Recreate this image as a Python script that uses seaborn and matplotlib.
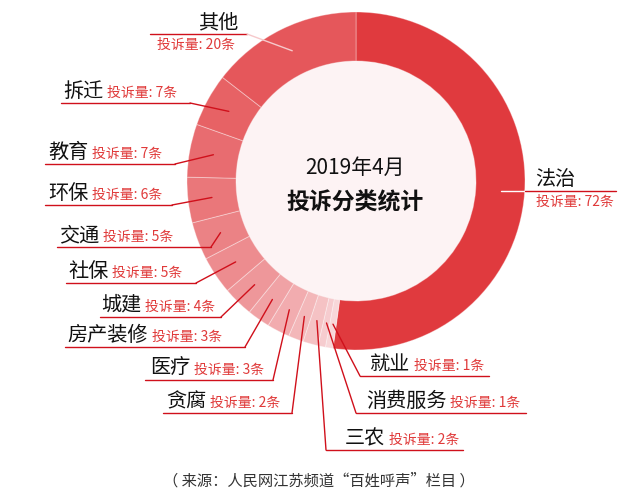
import matplotlib
matplotlib.use('Agg')
import matplotlib.pyplot as plt
import seaborn as sns
import numpy as np
from matplotlib.patches import Circle

# ---------------- data ----------------
categories = ['法治', '就业', '消费服务', '三农', '贪腐', '医疗', '房产装修',
              '城建', '社保', '交通', '环保', '教育', '拆迁', '其他']
counts = [72, 1, 1, 2, 2, 3, 3, 4, 5, 5, 6, 7, 7, 20]
title_lines = ['2019年4月', '投诉分类统计']
count_fmt = '投诉量: {}条'
source_note = '（ 来源：人民网江苏频道“百姓呼声”栏目 ）'

# ---------------- style ----------------
sns.set_theme(style='white')
plt.rcParams['font.family'] = ['Noto Sans CJK SC', 'DejaVu Sans']

W, H = 640, 500
fig = plt.figure(figsize=(6.4, 5), dpi=100)
ax = fig.add_axes([0, 0, 1, 1])


def Y(y):
    return H - y


CX, CY = 356, 181
R_OUT, R_IN = 169, 120
R_ANCH = 145
LINE_C = '#D0101B'
COUNT_C = '#E03A3A'
NAME_C = '#111111'

palette = ['#E03A3E'] + sns.blend_palette(['#F8D7D9', '#E5575B'], len(counts) - 1)
wedges, _ = ax.pie(counts, colors=palette, startangle=90, counterclock=False,
                   radius=R_OUT, center=(CX, Y(CY)),
                   wedgeprops=dict(width=R_OUT - R_IN, edgecolor=(1, 1, 1, 0.35),
                                   linewidth=0.7))
ax.add_patch(Circle((CX, Y(CY)), R_IN, color='#FDF3F4', zorder=0.5))
ax.set_xlim(0, W)
ax.set_ylim(0, H)
ax.set_aspect('equal')
ax.axis('off')

# anchors from wedge angles
anchors = {}
for cat, w in zip(categories, wedges):
    th = np.deg2rad((w.theta1 + w.theta2) / 2)
    anchors[cat] = (CX + R_ANCH * np.cos(th), Y(CY) + R_ANCH * np.sin(th), th)

# layout (image px): line_y, x0, x1, elbow side, name_x
layout = {
    '就业': (376, 360, 489, 'left', 370),
    '消费服务': (413, 356, 526, 'left', 366),
    '三农': (450, 326, 463, 'left', 345),
    '贪腐': (413, 163, 292, 'right', 166),
    '医疗': (380, 145, 273, 'right', 150),
    '房产装修': (347, 65, 245, 'right', 67),
    '城建': (317, 100, 221, 'right', 101),
    '社保': (283, 66, 196, 'right', 68),
    '交通': (247, 57, 211, 'right', 59),
    '环保': (205, 45, 172, 'right', 48),
    '教育': (164, 45, 175, 'right', 48),
    '拆迁': (103, 61, 190, 'right', 63),
}

name_texts = []
for cat, n in zip(categories, counts):
    if cat not in layout:
        continue
    ly, x0, x1, side, nx = layout[cat]
    ax.plot([x0, x1], [Y(ly), Y(ly)], color=LINE_C, lw=1.0, zorder=3)
    ex = x1 if side == 'right' else x0
    axx, ayy, _ = anchors[cat]
    ax.plot([ex, axx], [Y(ly), ayy], color=LINE_C, lw=1.0, zorder=3)
    t = ax.text(nx, Y(ly) + 6, cat, fontsize=14.5, color=NAME_C, va='baseline', ha='left')
    name_texts.append((t, n, ly))

fig.canvas.draw()
renderer = fig.canvas.get_renderer()
inv = ax.transData.inverted()
for t, n, ly in name_texts:
    bb = t.get_window_extent(renderer)
    xr = inv.transform((bb.x1, bb.y0))[0]
    ax.text(xr + 4, Y(ly) + 6, count_fmt.format(n), fontsize=10, color=COUNT_C,
            va='baseline', ha='left')

# 法治 (right side)
fz = categories[0]
axx, ayy, _ = anchors[fz]
edge_x = CX + np.sqrt(R_OUT ** 2 - (ayy - Y(CY)) ** 2)
ax.plot([axx, edge_x], [ayy, ayy], color='white', lw=1.0, zorder=3)
ax.plot([edge_x, 616], [ayy, ayy], color=LINE_C, lw=1.0, zorder=3)
ax.text(535, ayy + 6, fz, fontsize=14.5, color=NAME_C, va='baseline', ha='left')
ax.text(536, ayy - 4, count_fmt.format(counts[0]), fontsize=10, color=COUNT_C,
        va='top', ha='left')

# 其他 (top)
qt = categories[-1]
axx, ayy, _ = anchors[qt]
ax.plot([150, 247], [Y(34), Y(34)], color=LINE_C, lw=1.0, zorder=3)
ax.plot([247, axx], [Y(34), ayy], color='#F6C9CB', lw=1.0, zorder=3)
ax.text(198, Y(34) + 6, qt, fontsize=14.5, color=NAME_C, va='baseline', ha='left')
ax.text(157, Y(34) - 4, count_fmt.format(counts[-1]), fontsize=10, color=COUNT_C,
        va='top', ha='left')

# centre text
ax.text(355, Y(168), title_lines[0], fontsize=15, color='#111111', ha='center', va='center')
ax.text(355, Y(203), title_lines[1], fontsize=16.5, color='#111111', ha='center',
        va='center', fontweight='bold')

# source
ax.text(319, Y(481), source_note, fontsize=11, color='#333333', ha='center', va='center')

fig.savefig('out.png', dpi=100, facecolor='white')
